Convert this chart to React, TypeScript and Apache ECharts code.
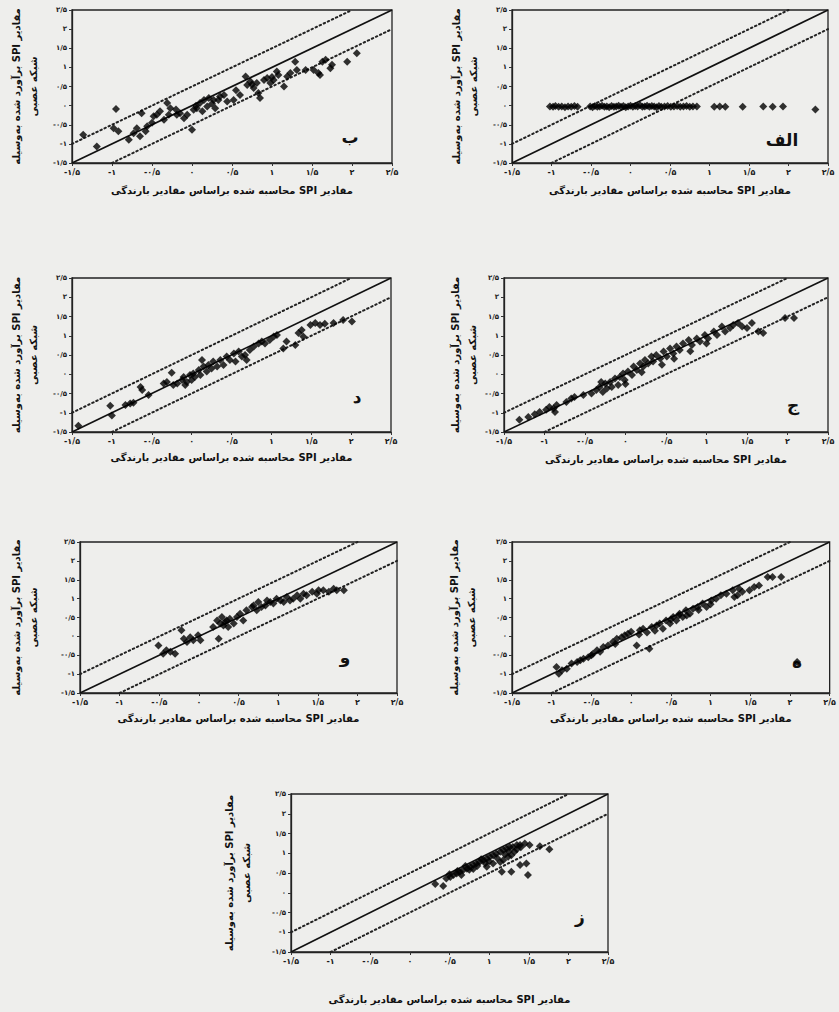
import React, { useEffect, useRef } from "react";
import * as echarts from "echarts";

const tickValues = [-1.5, -1, -0.5, 0, 0.5, 1, 1.5, 2, 2.5];
const tickLabels = ["-۱/۵", "-۱", "-۰/۵", "۰", "۰/۵", "۱", "۱/۵", "۲", "۲/۵"];
const xAxisTitleText = "مقادیر SPI محاسبه شده براساس مقادیر بارندگی";
const yAxisTitleLines = ["مقادیر SPI برآورد شده به‌وسیله", "شبکه عصبی"];
const panelLetters = ["الف", "ب", "ج", "د", "ه", "و", "ز"];

const lineOneToOne = [[-1.5, -1.5], [2.5, 2.5]];
const lineUpper = [[-1.5, -1], [2, 2.5]];
const lineLower = [[-1, -1.5], [2.5, 2]];

const dataAlef = [
  [-1.02, -0.02], [-0.98, -0.03], [-0.95, -0.01], [-0.91, -0.03], [-0.87, -0.02], [-0.83, -0.04],
  [-0.79, -0.02], [-0.75, -0.03], [-0.71, -0.01], [-0.67, -0.03],
  [-0.51, -0.02], [-0.48, -0.04], [-0.45, -0.01], [-0.42, -0.03], [-0.39, -0.02], [-0.36, 0.0],
  [-0.33, -0.03], [-0.30, -0.02], [-0.27, -0.04], [-0.24, -0.01], [-0.21, -0.03], [-0.18, -0.02],
  [-0.15, 0.0], [-0.12, -0.03], [-0.09, -0.01], [-0.06, -0.04], [-0.03, -0.02], [0.0, 0.0],
  [0.03, -0.03], [0.06, -0.01], [0.09, -0.02], [0.12, 0.01], [0.15, -0.03], [0.18, -0.02],
  [0.21, 0.0], [0.24, -0.03], [0.27, -0.01], [0.30, -0.02], [0.33, -0.04], [0.36, -0.01],
  [0.39, -0.03], [0.43, -0.02], [0.47, -0.01], [0.51, -0.03], [0.55, -0.02], [0.59, -0.01],
  [0.63, -0.03], [0.67, -0.02], [0.71, -0.01], [0.75, -0.03], [0.79, -0.02], [0.84, -0.02],
  [1.06, -0.03], [1.13, -0.02], [1.20, -0.03], [1.42, -0.03], [1.68, -0.02], [1.80, -0.03],
  [1.93, -0.02], [2.34, -0.1],
];

const dataBe = [
  [-1.36, -0.76], [-1.19, -1.07], [-0.95, -0.09], [-0.98, -0.59], [-0.92, -0.67], [-0.79, -0.89],
  [-0.73, -0.72], [-0.69, -0.59], [-0.65, -0.8], [-0.63, -0.2], [-0.58, -0.67], [-0.56, -0.54],
  [-0.48, -0.28], [-0.44, -0.24], [-0.4, -0.15], [-0.35, -0.37], [-0.31, 0.07], [-0.29, -0.24],
  [-0.27, -0.07], [-0.19, -0.24], [-0.15, -0.2], [-0.1, -0.33], [-0.06, -0.24], [0.0, -0.63],
  [0.02, -0.11], [0.06, -0.07], [0.1, 0.07], [0.13, -0.15], [0.15, 0.15], [0.19, -0.02],
  [0.21, 0.2], [0.27, 0.15], [0.29, -0.07], [0.33, 0.15], [0.35, 0.24], [0.4, 0.28],
  [0.44, 0.11], [0.52, 0.15], [0.6, 0.28], [0.67, 0.76], [0.69, 0.54], [0.73, 0.63],
  [0.77, 0.46], [0.81, 0.59], [0.83, 0.33], [0.85, 0.2], [0.9, 0.67], [0.94, 0.72],
  [0.98, 0.59], [1.02, 0.67], [1.06, 0.89], [1.08, 0.8], [1.15, 0.5], [1.19, 0.76],
  [1.23, 0.85], [1.29, 1.15], [1.31, 0.93], [1.42, 0.93], [1.52, 0.93], [1.58, 0.85],
  [1.6, 0.8], [1.63, 1.15], [1.67, 1.2], [1.73, 0.98], [1.75, 1.07], [1.94, 1.15], [2.06, 1.37],
  [-0.5, -0.45], [-0.2, -0.1], [0.05, 0.0], [0.25, 0.05], [0.55, 0.4], [0.75, 0.55], [1.0, 0.75],
];

const dataJim = [
  [-1.31, -1.18], [-1.2, -1.11], [-1.12, -1.04], [-1.06, -0.98], [-0.98, -0.92], [-0.94, -0.85],
  [-0.89, -0.89], [-0.87, -0.98], [-0.85, -0.8], [-0.73, -0.72], [-0.67, -0.63], [-0.63, -0.59],
  [-0.52, -0.54], [-0.42, -0.5], [-0.36, -0.41], [-0.32, -0.33], [-0.28, -0.46], [-0.25, -0.24],
  [-0.23, -0.37], [-0.19, -0.2], [-0.17, -0.33], [-0.13, -0.11], [-0.09, -0.28], [-0.07, -0.07],
  [-0.03, 0.02], [-0.01, -0.15], [0.03, 0.07], [0.08, -0.02], [0.1, 0.2], [0.14, 0.11],
  [0.18, 0.28], [0.22, 0.2], [0.24, 0.37], [0.28, 0.28], [0.32, 0.46], [0.34, 0.33],
  [0.38, 0.5], [0.43, 0.41], [0.47, 0.59], [0.51, 0.46], [0.55, 0.67], [0.59, 0.54],
  [0.63, 0.72], [0.67, 0.63], [0.71, 0.8], [0.78, 0.89], [0.82, 0.76], [0.88, 0.93],
  [0.92, 0.85], [0.98, 1.02], [1.02, 0.93], [1.09, 1.11], [1.13, 1.02], [1.19, 1.24],
  [1.23, 1.11], [1.29, 1.2], [1.33, 1.28], [1.39, 1.33], [1.44, 1.24], [1.5, 1.2],
  [1.56, 1.33], [1.64, 1.11], [1.7, 1.07], [1.97, 1.46], [2.08, 1.46],
  [-0.3, -0.2], [0.0, -0.25], [0.2, 0.05], [0.45, 0.25], [0.6, 0.4], [0.8, 0.6], [1.0, 0.8],
];

const dataDal = [
  [-1.42, -1.34], [-1.02, -0.82], [-1.0, -1.07], [-0.83, -0.8], [-0.77, -0.76], [-0.73, -0.74],
  [-0.64, -0.33], [-0.62, -0.41], [-0.54, -0.54], [-0.35, -0.24], [-0.31, -0.2], [-0.25, 0.04],
  [-0.23, -0.28], [-0.18, -0.24], [-0.12, -0.15], [-0.1, -0.07], [-0.08, -0.28], [-0.06, -0.2],
  [-0.02, -0.02], [0.0, -0.15], [0.02, 0.02], [0.04, -0.07], [0.09, 0.11], [0.11, -0.02],
  [0.13, 0.37], [0.15, 0.2], [0.19, 0.07], [0.21, 0.24], [0.25, 0.15], [0.27, 0.33],
  [0.32, 0.2], [0.36, 0.37], [0.4, 0.24], [0.44, 0.46], [0.48, 0.37], [0.53, 0.54],
  [0.55, 0.33], [0.59, 0.59], [0.63, 0.46], [0.67, 0.5], [0.69, 0.37], [0.73, 0.63],
  [0.78, 0.72], [0.84, 0.8], [0.88, 0.85], [0.92, 0.8], [0.98, 0.89], [1.03, 0.98],
  [1.07, 1.02], [1.15, 0.67], [1.19, 0.85], [1.3, 0.76], [1.34, 1.07], [1.38, 1.15],
  [1.4, 0.98], [1.49, 1.28], [1.55, 1.33], [1.61, 1.28], [1.67, 1.31], [1.78, 1.33],
  [1.9, 1.41], [2.01, 1.37],
];

const dataHe = [
  [-0.94, -0.81], [-0.91, -0.99], [-0.87, -0.9], [-0.81, -0.86], [-0.75, -0.72], [-0.68, -0.68],
  [-0.64, -0.63], [-0.6, -0.59], [-0.54, -0.55], [-0.48, -0.46], [-0.43, -0.37], [-0.39, -0.41],
  [-0.35, -0.28], [-0.29, -0.24], [-0.23, -0.15], [-0.18, -0.06], [-0.12, -0.02], [-0.08, 0.03],
  [-0.04, 0.07], [0.0, 0.12], [0.07, -0.24], [0.11, 0.16], [0.15, 0.2], [0.23, -0.33],
  [0.26, 0.25], [0.32, 0.29], [0.36, 0.34], [0.4, 0.2], [0.44, 0.42], [0.49, 0.34],
  [0.53, 0.51], [0.57, 0.42], [0.61, 0.6], [0.65, 0.51], [0.69, 0.69], [0.74, 0.6],
  [0.78, 0.73], [0.84, 0.78], [0.9, 0.87], [0.95, 0.78], [1.01, 0.95], [1.07, 1.0],
  [1.13, 1.09], [1.2, 1.13], [1.28, 1.22], [1.3, 1.04], [1.34, 1.09], [1.36, 1.26],
  [1.4, 1.18], [1.49, 1.22], [1.55, 1.31], [1.61, 1.35], [1.72, 1.57], [1.78, 1.57],
  [1.89, 1.57], [2.09, -0.68],
  [-0.5, -0.5], [-0.2, -0.2], [0.1, 0.05], [0.2, 0.1], [0.3, 0.15], [0.5, 0.45], [0.6, 0.55],
  [0.7, 0.55], [0.85, 0.7], [1.0, 0.85],
];

const dataVav = [
  [-0.51, -0.24], [-0.45, -0.46], [-0.41, -0.37], [-0.36, -0.41], [-0.3, -0.46], [-0.22, 0.16],
  [-0.19, -0.06], [-0.15, -0.15], [-0.11, -0.02], [-0.07, -0.1], [-0.01, 0.03], [0.02, -0.1],
  [0.18, 0.25], [0.23, 0.42], [0.25, -0.06], [0.27, 0.34], [0.29, 0.51], [0.31, 0.29],
  [0.33, 0.38], [0.35, 0.42], [0.37, 0.25], [0.39, 0.47], [0.44, 0.34], [0.48, 0.51],
  [0.52, 0.6], [0.56, 0.42], [0.6, 0.69], [0.67, 0.78], [0.69, 0.82], [0.73, 0.69],
  [0.75, 0.91], [0.79, 0.78], [0.84, 0.82], [0.86, 0.95], [0.9, 0.91], [0.94, 0.87],
  [0.98, 1.0], [1.03, 0.95], [1.07, 0.91], [1.11, 1.04], [1.15, 0.95], [1.19, 1.0],
  [1.24, 1.09], [1.28, 1.0], [1.32, 1.13], [1.36, 1.09], [1.43, 1.18], [1.49, 1.13],
  [1.51, 1.22], [1.57, 1.22], [1.64, 1.18], [1.7, 1.26], [1.74, 1.22], [1.83, 1.22],
];

const dataZe = [
  [0.32, 0.22], [0.42, 0.17], [0.46, 0.36], [0.51, 0.4], [0.55, 0.45], [0.59, 0.49],
  [0.63, 0.53], [0.67, 0.57], [0.72, 0.61], [0.76, 0.66], [0.8, 0.7], [0.84, 0.74],
  [0.88, 0.78], [0.93, 0.83], [0.97, 0.87], [1.01, 0.91], [1.05, 0.95], [1.09, 0.99],
  [1.14, 1.04], [1.18, 1.08], [1.22, 1.12], [1.26, 1.16], [1.3, 1.16], [1.35, 1.21],
  [1.05, 0.74], [0.97, 0.66], [1.14, 0.78], [1.18, 0.83], [1.24, 0.91], [1.28, 0.95],
  [1.32, 1.04], [1.39, 1.21], [1.51, 1.21], [1.16, 0.53], [1.28, 0.53], [1.49, 0.45],
  [1.47, 0.74], [1.39, 0.7], [1.64, 1.18], [1.76, 1.1],
  [0.5, 0.47], [0.6, 0.55], [0.7, 0.68], [0.75, 0.58], [0.85, 0.68], [0.9, 0.85],
  [1.0, 0.8], [1.1, 0.88], [1.2, 0.97], [1.25, 1.05], [1.35, 1.1], [0.65, 0.45],
  [0.8, 0.6], [0.95, 0.75], [1.4, 1.15], [1.45, 1.25],
];

const panelData = [dataAlef, dataBe, dataJim, dataDal, dataHe, dataVav, dataZe];

// layout: plot boxes in pixels [left, top, width, height], y-name gap, x-name gap, letter position
const panelLayout = [
  { box: [512, 10, 316, 153], yGap: 30, xGap: 22, letter: [782, 140] },
  { box: [72, 10, 320, 153], yGap: 30, xGap: 22, letter: [350, 137] },
  { box: [504, 278, 324, 154], yGap: 22, xGap: 22, letter: [793, 405] },
  { box: [72, 278, 319, 154], yGap: 30, xGap: 20, letter: [357, 397] },
  { box: [512, 542, 319, 151], yGap: 32, xGap: 20, letter: [797, 662] },
  { box: [80, 542, 317, 151], yGap: 38, xGap: 20, letter: [345, 657] },
  { box: [291, 794, 317, 158], yGap: 36, xGap: 42, letter: [580, 917] },
];

const FONT = "DejaVu Sans";
const RLE = "\u202B";
const PDF = "\u202C";
const xAxisTitle = RLE + xAxisTitleText + PDF;
const yAxisTitle = yAxisTitleLines.map((s) => RLE + s + PDF).join("\n");

function fmt(v: number) {
  const i = tickValues.findIndex((t) => Math.abs(t - v) < 1e-6);
  return i >= 0 ? tickLabels[i] : "";
}

export default function App() {
  const ref = useRef<HTMLDivElement>(null);
  useEffect(() => {
    if (!ref.current) return;
    const chart = echarts.init(ref.current, undefined, { renderer: "svg" });
    const grid: any[] = [];
    const xAxis: any[] = [];
    const yAxis: any[] = [];
    const series: any[] = [];
    const graphic: any[] = [];
    panelLayout.forEach((p, i) => {
      const [l, t, w, h] = p.box;
      grid.push({
        left: l, top: t, width: w, height: h,
        show: true, borderColor: "#222", borderWidth: 1.3, backgroundColor: "transparent",
      });
      xAxis.push({
        type: "value", gridIndex: i, min: -1.5, max: 2.5, interval: 0.5,
        axisLine: { show: true, onZero: false, lineStyle: { color: "#222", width: 1.3 } },
        axisTick: { show: true, length: 3, lineStyle: { color: "#333" } },
        splitLine: { show: false },
        axisLabel: { formatter: fmt, fontSize: 8, fontWeight: "bold", color: "#1a1a1a", fontFamily: FONT, margin: 5 },
        name: xAxisTitle, nameLocation: "middle", nameGap: p.xGap,
        nameTextStyle: { fontSize: 10, fontWeight: "bold", color: "#111", fontFamily: FONT },
      });
      yAxis.push({
        type: "value", gridIndex: i, min: -1.5, max: 2.5, interval: 0.5,
        axisLine: { show: true, onZero: false, lineStyle: { color: "#222", width: 1.3 } },
        axisTick: { show: true, length: 3, lineStyle: { color: "#333" } },
        splitLine: { show: false },
        axisLabel: { formatter: fmt, fontSize: 7, fontWeight: "bold", color: "#1a1a1a", fontFamily: FONT, margin: 5 },
        name: yAxisTitle, nameLocation: "middle", nameGap: p.yGap, nameRotate: 90,
        nameTextStyle: { fontSize: 10, fontWeight: "bold", color: "#111", fontFamily: FONT, lineHeight: 17 },
      });
      series.push({
        type: "line", xAxisIndex: i, yAxisIndex: i, data: lineOneToOne, symbol: "none",
        lineStyle: { color: "#111", width: 1.7 }, silent: true, z: 2,
      });
      series.push({
        type: "line", xAxisIndex: i, yAxisIndex: i, data: lineUpper, symbol: "none",
        lineStyle: { color: "#222", width: 2, type: [1.5, 3], cap: "round" }, silent: true, z: 2,
      });
      series.push({
        type: "line", xAxisIndex: i, yAxisIndex: i, data: lineLower, symbol: "none",
        lineStyle: { color: "#222", width: 2, type: [1.5, 3], cap: "round" }, silent: true, z: 2,
      });
      series.push({
        type: "scatter", xAxisIndex: i, yAxisIndex: i, data: panelData[i],
        symbol: "diamond", symbolSize: 8, itemStyle: { color: "#000" }, z: 3,
      });
      graphic.push({
        type: "text", x: p.letter[0], y: p.letter[1],
        style: {
          text: panelLetters[i], fontSize: 17, fontWeight: "bold", fill: "#111",
          fontFamily: FONT, align: "center", verticalAlign: "middle",
        },
      });
    });
    chart.setOption({
      animation: false,
      backgroundColor: "#eeeeec",
      grid, xAxis, yAxis, series, graphic,
    });
    return () => chart.dispose();
  }, []);
  return (
    <div
      ref={ref}
      style={{ position: "fixed", left: 0, top: 0, width: 839, height: 1012 }}
    />
  );
}
